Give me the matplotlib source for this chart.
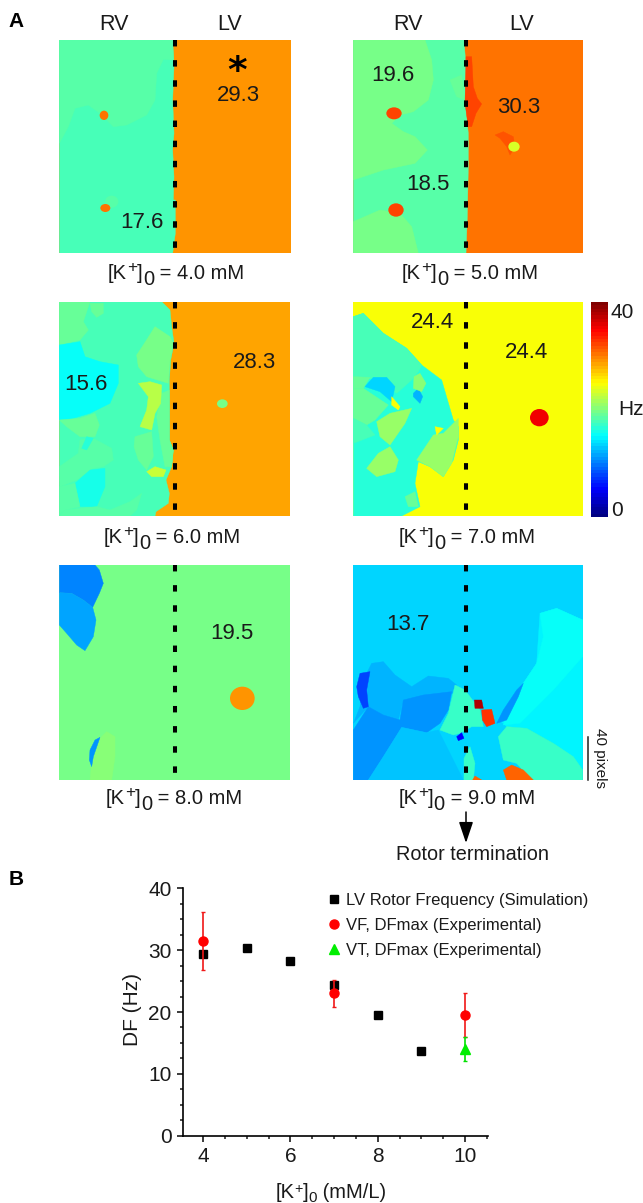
import numpy as np
import matplotlib
matplotlib.use("Agg")
import matplotlib.pyplot as plt
from matplotlib.colors import LinearSegmentedColormap, Normalize
from matplotlib.patches import Polygon, Ellipse, FancyArrowPatch
from matplotlib.cm import ScalarMappable
from matplotlib.ticker import MultipleLocator

plt.rcParams['font.family'] = ['Liberation Sans', 'DejaVu Sans']

W, H = 643, 1203

# ---------- scatter data (panel B) ----------
sim_k = [4, 5, 6, 7, 8, 9]
sim_df = [29.3, 30.3, 28.3, 24.4, 19.5, 13.7]
vf_k = [4, 7, 10]
vf_df = [31.5, 23.0, 19.5]
vf_err = [4.7, 2.2, 3.6]
vt_k = [10]
vt_df = [14.0]
vt_err = [1.9]
legend_labels = ["LV Rotor Frequency (Simulation)", "VF, DFmax (Experimental)",
                 "VT, DFmax (Experimental)"]

# ---------- dominant-frequency maps (Hz), regions as outlines ----------
# Each map's outline coordinates are in its own units (1/3 of a picture pixel).
base_4 = 29.3
regions_4 = [
    (17.6, [(178,120),(518,120),(522,200),(518,300),(522,400),(518,450),(522,530),(520,600),(526,600),(526,700),(518,760),(178,760)]),
    (18.6, [(178,120),(518,120),(520,180),(490,178),(470,220),(465,300),(440,345),(380,375),(340,380),(300,340),(265,315),(225,325),(205,380),(178,430)]),
]
spots_4 = [(335,605,20,18,18.6),(312,346,13,14,30.0),(316,624,15,12,30.0)]

base_5 = 30.3
regions_5 = [
    (18.5, [(40,120),(372,120),(378,200),(375,300),(385,400),(385,500),(382,650),(378,760),(40,760)]),
    (19.6, [(40,120),(255,120),(275,180),(280,240),(265,300),(220,335),(180,345),(155,370),(190,395),(225,410),(262,450),(225,490),(130,510),(40,540)]),
    (19.6, [(40,665),(120,630),(180,640),(215,680),(235,760),(40,760)]),
    (19.0, [(330,240),(365,225),(375,300),(350,290)]),
    (32.0, [(378,170),(395,170),(400,260),(412,295),(425,312),(408,340),(395,380),(385,380),(375,310)]),
    (31.5, [(465,405),(490,395),(520,410),(525,440),(510,465),(500,440),(480,415)]),
]
spots_5 = [(162,340,23,18,32.0),(168,630,23,20,32.0),(522,440,17,15,23.5)]

base_6 = 28.3
regions_6 = [
    (17.6, [(58,65),(365,65),(390,90),(395,140),(402,190),(392,240),(388,300),(388,400),(388,480),(400,510),(395,560),(378,600),(388,640),(385,670),(348,695),(345,708),(58,708)]),
    (18.8, [(58,65),(150,65),(130,125),(145,150),(120,180),(58,195)]),
    (15.6, [(58,195),(120,185),(135,230),(180,245),(235,255),(235,310),(210,370),(150,400),(100,415),(58,420)]),
    (19.0, [(150,70),(190,70),(190,100),(170,112),(155,95)]),
    (19.5, [(345,140),(390,170),(400,190),(390,240),(385,310),(320,290),(295,260),(290,225),(310,195)]),
    (19.0, [(365,340),(388,330),(388,480),(400,510),(395,560),(375,560),(360,480),(350,410)]),
    (22.0, [(295,310),(330,305),(365,315),(362,370),(345,400),(335,450),(300,440),(320,390),(325,350)]),
    (19.0, [(285,470),(335,455),(340,530),(320,570),(295,540),(282,500)]),
    (23.0, [(320,575),(345,560),(378,570),(370,590),(335,590)]),
    (19.0, [(58,420),(120,415),(165,400),(178,435),(165,470),(120,470),(80,440)]),
    (18.6, [(115,520),(120,480),(160,475),(215,505),(220,540),(190,560),(160,565),(110,600),(60,620),(58,560)]),
    (16.5, [(125,505),(140,470),(160,475),(140,510)]),
    (16.0, [(105,610),(150,570),(195,565),(195,620),(170,680),(120,680)]),
    (18.6, [(58,620),(105,610),(120,680),(75,690),(58,705)]),
    (18.6, [(75,690),(170,680),(210,690),(270,665),(305,640),(290,690),(270,708),(58,708)]),
]
spots_6 = [(547,371,16,13,19.5)]

base_7 = 24.9
regions_7 = [
    (16.3, [(40,110),(70,100),(130,160),(200,205),(245,255),(305,300),(340,420),(355,440),(355,480),(340,540),(310,590),(270,560),(235,545),(225,610),(240,680),(185,708),(40,708)]),
    (18.0, [(40,110),(70,100),(130,160),(200,205),(245,255),(235,275),(215,300),(170,340),(120,300),(40,290)]),
    (19.0, [(40,290),(90,292),(70,325),(40,325)]),
    (19.0, [(40,325),(70,325),(145,375),(105,420),(80,435),(40,415)]),
    (18.0, [(40,415),(80,435),(105,465),(40,490)]),
    (13.5, [(75,320),(100,292),(140,292),(165,320),(155,365),(120,335)]),
    (12.0, [(220,340),(235,325),(248,350),(240,370),(220,350)]),
    (20.0, [(222,290),(240,280),(258,310),(245,335),(220,325)]),
    (24.9, [(155,350),(180,380),(175,390),(155,375)]),
    (21.0, [(110,425),(150,400),(215,385),(195,430),(150,495),(120,470)]),
    (21.0, [(80,565),(115,520),(150,500),(175,540),(165,575),(110,590)]),
    (21.0, [(230,540),(280,465),(310,460),(355,415),(355,470),(335,550),(310,590),(270,560)]),
    (24.9, [(285,440),(310,445),(290,465)]),
    (19.0, [(195,650),(225,635),(235,680),(205,680)]),
]
spots_7 = [(598,413,28,26,35.0)]

base_8 = 19.5
regions_8 = [
    (10.5, [(58,45),(165,45),(178,60),(190,100),(178,130),(158,172),(130,150),(95,130),(58,128)]),
    (11.5, [(58,128),(95,130),(130,150),(158,172),(168,210),(160,260),(135,302),(110,285),(80,250),(58,225)]),
    (20.5, [(150,690),(155,640),(180,565),(200,545),(225,560),(225,620),(215,690)]),
    (11.0, [(150,600),(165,570),(180,562),(160,620),(155,650),(148,630)]),
]
spots_8 = [(607,445,37,35,29.0)]

base_9 = 13.7
regions_9 = [
    (14.5, [(600,190),(650,175),(728,210),(728,660),(640,580),(560,535),(500,530),(480,510),(530,430),(590,340)]),
    (15.0, [(600,190),(650,175),(728,210),(728,320),(640,420),(540,520),(490,525),(530,430),(590,340),(610,260)]),
    (12.0, [(40,520),(60,470),(70,390),(95,340),(130,335),(165,375),(215,410),(265,378),(325,385),(350,405),(340,430),(250,440),(190,450),(175,510),(130,495),(85,470)]),
    (11.0, [(40,540),(85,470),(130,495),(180,510),(190,450),(250,435),(335,425),(325,480),(300,520),(260,548),(185,532),(130,620),(85,690),(40,690)]),
    (12.5, [(85,690),(130,620),(185,532),(260,548),(295,540),(330,610),(370,690)]),
    (8.0, [(50,410),(60,370),(90,365),(80,420),(85,470),(70,475),(55,440)]),
    (11.0, [(470,520),(490,480),(530,420),(550,400),(535,440),(500,510)]),
    (17.0, [(345,405),(375,420),(420,480),(430,530),(395,530),(360,550),(340,555),(300,540),(325,490)]),
    (17.0, [(372,690),(372,625),(390,590),(405,640),(400,690)]),
    (17.0, [(475,560),(500,530),(560,535),(640,580),(700,620),(728,660),(728,690),(575,690),(530,640),(490,630)]),
    (38.0, [(403,450),(425,450),(430,475),(405,475)]),
    (33.0, [(425,480),(455,478),(465,520),(440,530),(427,510)]),
    (5.0, [(350,560),(365,548),(372,565),(355,572)]),
    (31.0, [(490,660),(515,645),(550,660),(580,690),(500,690)]),
    (31.0, [(398,690),(405,678),(425,690)]),
]
spots_9 = []

potassium = ["4.0", "5.0", "6.0", "7.0", "8.0", "9.0"]
map_bases = [base_4, base_5, base_6, base_7, base_8, base_9]
map_regions = [regions_4, regions_5, regions_6, regions_7, regions_8, regions_9]
map_spots = [spots_4, spots_5, spots_6, spots_7, spots_8, spots_9]
peak_labels = [
    [("29.3", 238, 93), ("17.6", 142, 220)],
    [("19.6", 393, 73), ("30.3", 519, 105), ("18.5", 428, 182)],
    [("15.6", 86, 382), ("28.3", 254, 360)],
    [("24.4", 432, 320), ("24.4", 526, 350)],
    [("19.5", 232, 631)],
    [("13.7", 408, 622)],
]

# ---------- layout (picture pixels) ----------
crop_origin = [(0,0),(340,0),(40,280),(340,280),(40,550),(340,550)]
map_extent = [(178,872,120,760),(40,728,120,760),(58,750,65,708),
              (40,728,65,708),(58,750,45,690),(40,728,45,690)]
septum_x = [525, 378, 405, 378, 405, 378]
caption_pos = [(176,279),(470,279),(172,543),(467,543),(174,804),(467,804)]

fig = plt.figure(figsize=(W/100, H/100), dpi=100)

def rect(x0, y0, x1, y1):
    return [x0/W, 1-y1/H, (x1-x0)/W, (y1-y0)/H]

def t(x, y, s, **kw):
    kw.setdefault('ha', 'center'); kw.setdefault('va', 'center')
    kw.setdefault('color', '#1a1a1a')
    if kw.get('rotation', 0) == 0:
        y = y + 0.13*kw.get('fontsize', 10)*100/72
    return fig.text(x/W, 1-y/H, s, **kw)

def compound(cx, base_y, parts, fs):
    """parts: (string, raise in px, size factor); centred on cx, baseline at base_y."""
    r = fig.canvas.get_renderer()
    items = []
    total = 0
    for s, dy, f in parts:
        txt = fig.text(0, 1-(base_y-dy)/H, s, fontsize=fs*f, ha='left', va='baseline', color='#1a1a1a')
        fp = txt.get_fontproperties()
        adv = (r.get_text_width_height_descent("|"+s+"|", fp, False)[0]
               - r.get_text_width_height_descent("||", fp, False)[0])
        items.append((txt, adv))
        total += adv
    x = cx - total/2
    for txt, adv in items:
        txt.set_x(x/W)
        x += adv

cmap = LinearSegmentedColormap('matlab_jet', {
    'red':   [(0,0,0),(.375,0,0),(.625,1,1),(.875,1,1),(1,.5,.5)],
    'green': [(0,0,0),(.125,0,0),(.375,1,1),(.625,1,1),(.875,0,0),(1,0,0)],
    'blue':  [(0,.5,.5),(.125,1,1),(.375,1,1),(.625,0,0),(1,0,0)],
}, N=64)
norm = Normalize(0, 40)

for i in range(6):
    ox, oy = crop_origin[i]
    xl, xr, yt, yb = map_extent[i]
    ax = fig.add_axes(rect(ox+xl/3, oy+yt/3, ox+xr/3, oy+yb/3))
    ax.set_xlim(xl, xr); ax.set_ylim(yb, yt)
    ax.axis('off')
    ax.set_facecolor('none')
    ax.add_patch(Polygon([(xl,yt),(xr,yt),(xr,yb),(xl,yb)], closed=True, fc=cmap(norm(map_bases[i])), ec='none'))
    for val, pts in map_regions[i]:
        c = cmap(norm(val))
        ax.add_patch(Polygon(pts, closed=True, fc=c, ec=c, lw=0.3))
    for x, y, rx, ry, val in map_spots[i]:
        ax.add_patch(Ellipse((x, y), 2*rx, 2*ry, fc=cmap(norm(val)), ec='none'))
    ax.plot([septum_x[i]]*2, [yt, yb], color='black', lw=2.9, solid_capstyle='butt',
            dash_capstyle='butt', dashes=(1.6, 3.4), clip_on=False)
    for s, x, y in peak_labels[i]:
        t(x, y, s, fontsize=16)
    compound(caption_pos[i][0], caption_pos[i][1],
             [("[K", 0, 1), ("+", 7, .85), ("]", 0, 1), ("0", -6, 1), (" = %s mM" % potassium[i], 0, 1)], 14.5)

# headers and panel letters
for x, s in [(114,"RV"),(230,"LV"),(408,"RV"),(522,"LV")]:
    t(x, 22, s, fontsize=15.5)
t(16, 19, "A", fontsize=15, fontweight='bold', color='black')
t(16, 877, "B", fontsize=15, fontweight='bold', color='black')
fig.text(237/W, 1-82/H, "*", fontsize=27, family='DejaVu Sans', fontweight='bold',
         color='black', ha='center', va='baseline')

# colour bar
cax = fig.add_axes(rect(591, 302, 608, 517))
cb = fig.colorbar(ScalarMappable(norm=norm, cmap=cmap), cax=cax)
cb.set_ticks([])
cb.outline.set_visible(False)
t(622, 310, "40", fontsize=15)
t(617, 508, "0", fontsize=15)
t(631, 407, "Hz", fontsize=15)

# scale bar and rotor arrow
fig.add_artist(plt.Line2D([588/W, 588/W], [1-737/H, 1-780/H], color='#222222', lw=1.1))
t(600, 758, "40 pixels", fontsize=11, rotation=-90)
fig.add_artist(FancyArrowPatch((466/W, 1-812/H), (466/W, 1-843/H),
               transform=fig.transFigure, arrowstyle='-|>,head_length=4.3,head_width=1.45',
               color='black', lw=1.1, shrinkA=0, shrinkB=0, mutation_scale=3))
t(472, 852, "Rotor termination", fontsize=14.3)

# panel B
bx = fig.add_axes(rect(182.7, 888.3, 488.3, 1135.7))
bx.set_xlim(3.535, 10.53); bx.set_ylim(0, 40)
bx.spines[['top','right']].set_visible(False)
bx.spines[['left','bottom']].set_linewidth(1.2)
bx.set_facecolor('none')
h1, = bx.plot(sim_k, sim_df, ls='none', marker='s', ms=6, color='black', zorder=3, clip_on=False)
bx.errorbar(vf_k, vf_df, yerr=vf_err, ls='none', ecolor='#f01818', elinewidth=1.2, capsize=1.6, capthick=1.0, zorder=4)
h2, = bx.plot(vf_k, vf_df, ls='none', marker='o', ms=6.5, color='#ff0000', zorder=5)
bx.errorbar(vt_k, vt_df, yerr=vt_err, ls='none', ecolor='#00e000', elinewidth=1.2, capsize=1.6, capthick=1.0, zorder=4)
h3, = bx.plot(vt_k, vt_df, ls='none', marker='^', ms=7.5, color='#00ee00', zorder=5)
bx.set_xticks([4, 6, 8, 10]); bx.set_yticks([0, 10, 20, 30, 40])
bx.xaxis.set_minor_locator(MultipleLocator(0.5)); bx.yaxis.set_minor_locator(MultipleLocator(2.5))
bx.tick_params(which='major', length=4, width=1.2, labelsize=15, colors='#1a1a1a', pad=4)
bx.tick_params(which='minor', length=2.2, width=1.1, colors='#1a1a1a')
bx.legend([h1, h2, h3], legend_labels, loc='upper left', bbox_to_anchor=(327/W, 1-893/H),
          bbox_transform=fig.transFigure, frameon=False, fontsize=12, borderpad=0, borderaxespad=0,
          handlelength=0.8, handletextpad=0.35, labelspacing=0.6, labelcolor='#1a1a1a')
t(133, 1010, "DF (Hz)", fontsize=15, rotation=90)
compound(331, 1198, [("[K", 0, 1), ("+", 5, .7), ("]", 0, 1), ("0", -4, .75), (" (mM/L)", 0, 1)], 14.5)

fig.savefig("out.png", dpi=100)
